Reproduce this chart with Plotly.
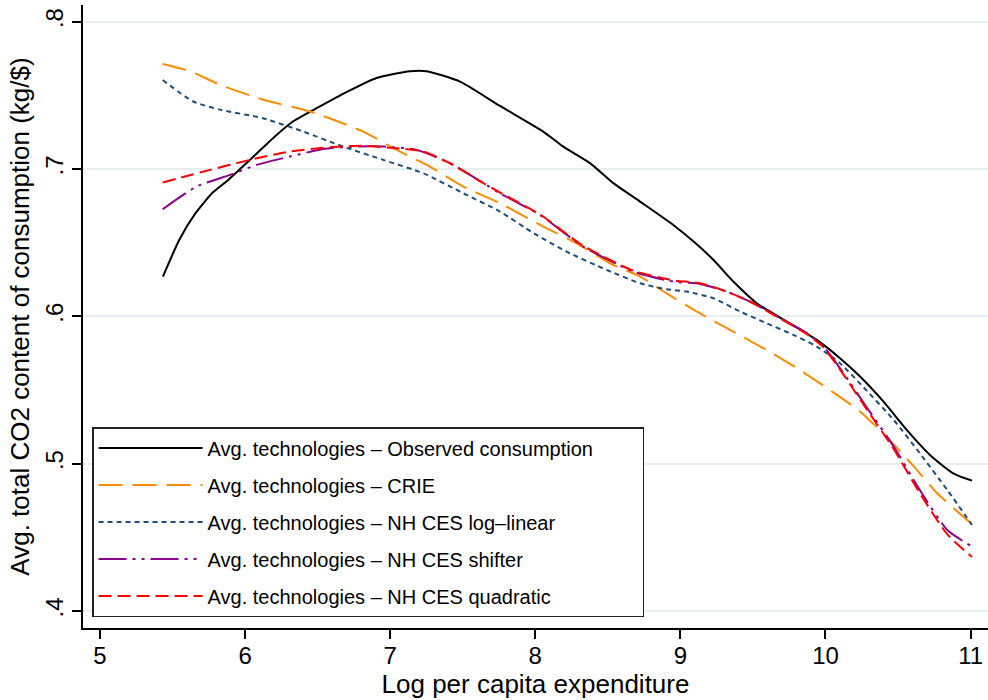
import plotly.graph_objects as go

# ---- data ----
obs_x = [5.434, 5.547, 5.655, 5.777, 5.884, 6.034, 6.194, 6.332, 6.493, 6.699, 6.906, 7.136, 7.251,
         7.481, 7.757, 8.055, 8.193, 8.377, 8.538, 8.722, 8.951, 9.089, 9.227, 9.365, 9.526, 9.733,
         9.94, 10.10, 10.24, 10.40, 10.56, 10.72, 10.88, 11.01]
obs_y = [0.627, 0.652, 0.6695, 0.684, 0.6926, 0.7062, 0.7211, 0.7324, 0.7413, 0.7522, 0.7618, 0.7664, 0.7664,
         0.7593, 0.7428, 0.7254, 0.7152, 0.704, 0.6904, 0.6779, 0.662, 0.6509, 0.6384, 0.6236, 0.6089, 0.5965,
         0.584, 0.5716, 0.559, 0.5421, 0.5229, 0.5059, 0.4935, 0.4885]

crie_x = [5.432, 5.62, 5.827, 6.125, 6.447, 6.814, 7.044, 7.274, 7.504, 7.757, 8.055, 8.285, 8.515,
          8.722, 8.905, 9.135, 9.365, 9.595, 9.824, 10.03, 10.24, 10.42, 10.61, 10.77, 11.01]
crie_y = [0.7713, 0.7664, 0.7572, 0.747, 0.739, 0.7254, 0.713, 0.7016, 0.688, 0.6768, 0.6609, 0.6496, 0.636,
          0.627, 0.6156, 0.602, 0.5896, 0.5771, 0.5636, 0.55, 0.5353, 0.5183, 0.498, 0.4799, 0.459]

loglin_x = [5.432, 5.643, 5.827, 6.125, 6.401, 6.676, 6.952, 7.228, 7.504, 7.757, 7.987, 8.216, 8.492,
            8.722, 8.905, 9.043, 9.227, 9.411, 9.595, 9.779, 9.94, 10.10, 10.28, 10.47, 10.65, 10.84, 11.01]
loglin_y = [0.7604, 0.7458, 0.7403, 0.7344, 0.7254, 0.7152, 0.7062, 0.6971, 0.6835, 0.6711, 0.6565, 0.6439, 0.6315,
            0.6225, 0.6184, 0.6168, 0.6123, 0.6033, 0.5953, 0.5874, 0.5795, 0.5682, 0.55, 0.5297, 0.5071, 0.4821, 0.4584]

shift_x = [5.432, 5.666, 5.896, 6.08, 6.31, 6.539, 6.769, 6.952, 7.182, 7.412, 7.642, 7.757, 8.032,
           8.331, 8.676, 8.951, 9.135, 9.319, 9.503, 9.687, 9.871, 9.986, 10.124, 10.28, 10.47, 10.65, 10.84, 11.01]
shift_y = [0.6727, 0.6881, 0.696, 0.7028, 0.7085, 0.7135, 0.7152, 0.7152, 0.713, 0.7039, 0.6904, 0.6835, 0.6688,
           0.6473, 0.6304, 0.6236, 0.622, 0.6168, 0.6089, 0.5988, 0.5886, 0.5795, 0.5615, 0.5388, 0.5117, 0.4821, 0.455, 0.4437]

quad_x = [5.432, 5.758, 6.034, 6.31, 6.585, 6.814, 7.044, 7.228, 7.412, 7.642, 7.757, 8.032,
          8.331, 8.676, 8.951, 9.135, 9.319, 9.503, 9.687, 9.871, 9.986, 10.124, 10.28, 10.47, 10.65, 10.84, 11.01]
quad_y = [0.6908, 0.6994, 0.7062, 0.7119, 0.7148, 0.7157, 0.7141, 0.7119, 0.7039, 0.6904, 0.6840, 0.6692,
          0.6478, 0.6310, 0.6245, 0.6225, 0.6168, 0.6089, 0.5985, 0.5880, 0.5790, 0.5605, 0.5375, 0.5100, 0.4800, 0.4520, 0.4367]

names = ["Avg. technologies \u2013 Observed consumption",
         "Avg. technologies \u2013 CRIE",
         "Avg. technologies \u2013 NH CES log\u2013linear",
         "Avg. technologies \u2013 NH CES shifter",
         "Avg. technologies \u2013 NH CES quadratic"]

x_ticks = [5, 6, 7, 8, 9, 10, 11]
y_ticks = [0.4, 0.5, 0.6, 0.7, 0.8]
y_tick_text = [".4", ".5", ".6", ".7", ".8"]

series = [
    (obs_x, obs_y, "#000000", "solid"),
    (crie_x, crie_y, "#ff8c00", "24px,10px"),
    (loglin_x, loglin_y, "#1f4e79", "5px,4px"),
    (shift_x, shift_y, "#8b008b", "28px,6px,3px,6px,3px,6px"),
    (quad_x, quad_y, "#ff0000", "13px,6px"),
]

FONT = "Liberation Sans, Arial, Helvetica, sans-serif"
PAD = "\u00a0" * 8  # widens the legend box to match the reference

fig = go.Figure()
for i, (xs, ys, col, dash) in enumerate(series):
    label = names[i] + (PAD if i == 0 else "")
    fig.add_trace(go.Scatter(x=xs, y=ys, mode="lines", name=label, legendgroup=f"g{i}",
                             line=dict(color=col, width=2, dash=dash, shape="spline", smoothing=0.6)))

fig.update_layout(
    width=988, height=700,
    margin=dict(l=83, r=0, t=5, b=72),
    paper_bgcolor="white", plot_bgcolor="white",
    font=dict(family=FONT, color="#000000"),
    showlegend=True,
    legend=dict(x=0.01, y=0.0175, xanchor="left", yanchor="bottom",
                bgcolor="white", bordercolor="#222222", borderwidth=1.5,
                font=dict(size=20, family=FONT), itemwidth=104,
                traceorder="grouped", tracegroupgap=8),
    xaxis=dict(range=[4.883, 11.12], tickvals=x_ticks, ticks="outside", ticklen=9, tickwidth=1.5,
               tickcolor="#000000", showline=True, linecolor="#000000", linewidth=1.5,
               showgrid=False, zeroline=False, tickfont=dict(size=24), ticklabelstandoff=-4,
               title=dict(text="Log per capita expenditure", font=dict(size=26), standoff=4)),
    yaxis=dict(range=[0.3885, 0.8113], tickvals=y_ticks, ticktext=y_tick_text, tickangle=-90,
               ticks="outside", ticklen=9, tickwidth=1.5, tickcolor="#000000",
               showline=True, linecolor="#000000", linewidth=1.5,
               showgrid=True, gridcolor="#e6eef0", gridwidth=2, zeroline=False,
               tickfont=dict(size=24),
               title=dict(text="Avg. total CO2 content of consumption (kg/$)", font=dict(size=26), standoff=4)),
)

fig.write_html("out.html")
